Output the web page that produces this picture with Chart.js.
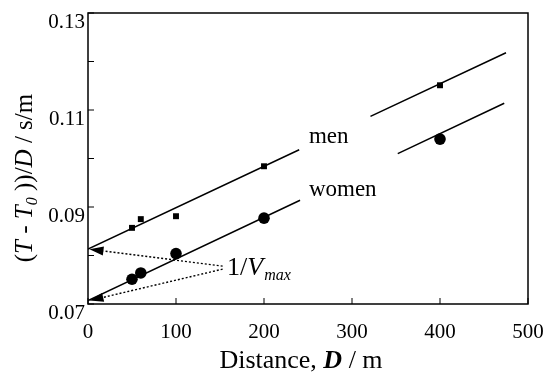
<!DOCTYPE html>
<html><head><meta charset="utf-8">
<script src="https://cdn.jsdelivr.net/npm/chart.js@4/dist/chart.umd.min.js"></script>
<style>html,body{margin:0;padding:0;background:#fff}</style>
</head><body>
<canvas id="c" width="549" height="374"></canvas>
<script>
// ---- data ----
const distances   = [50, 60, 100, 200, 400];
const menValues   = [0.0857, 0.0875, 0.0881, 0.0984, 0.1151];
const womenValues = [0.0751, 0.0764, 0.0804, 0.0877, 0.1040];
// regression lines: endpoints (gap where the label sits)
const menFitX   = [0, 240, 321, 475];
const menFitY   = [0.0813, 0.1018, 0.1087, 0.1218];
const womenFitX = [0, 241, 352, 473];
const womenFitY = [0.0707, 0.0914, 0.1010, 0.1114];
// 1/Vmax annotation: label point and the two intercepts it points to
const vmaxTail = [153, 0.0775];
const xTickValues = [0, 100, 200, 300, 400, 500];
const yLabelledTicks = ['0.07', '0.09', '0.11', '0.13'];

const SERIF = '"Liberation Serif", "DejaVu Serif", serif';

function fitData(xs, ys) {
  return [
    {x: xs[0], y: ys[0]}, {x: xs[1], y: ys[1]},
    {x: (xs[1] + xs[2]) / 2, y: null},
    {x: xs[2], y: ys[2]}, {x: xs[3], y: ys[3]}
  ];
}

function richText(ctx, parts, cx, cy) {
  let total = 0;
  parts.forEach(p => { ctx.font = p.f; p.w = ctx.measureText(p.t).width; total += p.w; });
  let x = cx - total / 2;
  ctx.textAlign = 'left';
  ctx.textBaseline = 'alphabetic';
  parts.forEach(p => { ctx.font = p.f; ctx.fillText(p.t, x, cy + (p.dy || 0)); x += p.w; });
}

const decor = {
  id: 'decor',
  beforeDraw(chart) {
    const ctx = chart.ctx;
    ctx.save();
    ctx.fillStyle = '#fff';
    ctx.fillRect(0, 0, chart.width, chart.height);
    ctx.restore();
  },
  afterDraw(chart) {
    const {ctx, chartArea: a, scales: {x, y}} = chart;
    ctx.save();
    ctx.strokeStyle = '#000';
    ctx.fillStyle = '#000';
    // frame
    ctx.lineWidth = 1.5;
    ctx.strokeRect(a.left, a.top, a.right - a.left, a.bottom - a.top);
    // inward ticks
    ctx.lineWidth = 1;
    ctx.beginPath();
    y.ticks.forEach(t => { const py = y.getPixelForValue(t.value); ctx.moveTo(a.left, py); ctx.lineTo(a.left + 6, py); });
    x.ticks.forEach(t => { const px = x.getPixelForValue(t.value); ctx.moveTo(px, a.bottom); ctx.lineTo(px, a.bottom - 6); });
    ctx.stroke();

    // dotted arrows for 1/Vmax
    const tx = x.getPixelForValue(vmaxTail[0]);
    const ty = y.getPixelForValue(vmaxTail[1]);
    [[menFitX[0], menFitY[0], -1.5], [womenFitX[0], womenFitY[0], 1.5]].forEach(([vx, vy, off]) => {
      const hx = x.getPixelForValue(vx) + 1.5;
      const hy = y.getPixelForValue(vy);
      const sy = ty + off;
      const ang = Math.atan2(hy - sy, hx - tx);
      const L = 14, W = 4.5;
      const bx = hx - L * Math.cos(ang), by = hy - L * Math.sin(ang);
      ctx.setLineDash([2, 2]);
      ctx.lineWidth = 1.4;
      ctx.beginPath(); ctx.moveTo(tx, sy); ctx.lineTo(bx, by); ctx.stroke();
      ctx.setLineDash([]);
      ctx.beginPath();
      ctx.moveTo(hx, hy);
      ctx.lineTo(bx + W * Math.sin(ang), by - W * Math.cos(ang));
      ctx.lineTo(bx - W * Math.sin(ang), by + W * Math.cos(ang));
      ctx.closePath(); ctx.fill();
    });

    // in-plot labels
    ctx.textBaseline = 'alphabetic';
    ctx.textAlign = 'left';
    ctx.font = '23px ' + SERIF;
    ctx.fillText('men', x.getPixelForValue(251), y.getPixelForValue(0.1031));
    ctx.fillText('women', x.getPixelForValue(251), y.getPixelForValue(0.0923));
    const lx = x.getPixelForValue(158), ly = y.getPixelForValue(0.0759);
    ctx.font = '26px ' + SERIF;
    ctx.fillText('1/', lx, ly);
    const w1 = ctx.measureText('1/').width;
    ctx.font = 'italic 26px ' + SERIF;
    ctx.fillText('V', lx + w1, ly);
    const w2 = ctx.measureText('V').width;
    ctx.font = 'italic 16px ' + SERIF;
    ctx.fillText('max', lx + w1 + w2 + 1, ly + 5);

    // axis titles
    ctx.fillStyle = '#000';
    richText(ctx, [
      {t: 'Distance, ', f: '26px ' + SERIF},
      {t: 'D', f: 'italic bold 26px ' + SERIF},
      {t: ' / m', f: '26px ' + SERIF}
    ], 301, 368);

    ctx.save();
    ctx.translate(32, 178);
    ctx.rotate(-Math.PI / 2);
    richText(ctx, [
      {t: '(', f: '25px ' + SERIF},
      {t: 'T', f: 'italic 25px ' + SERIF},
      {t: ' - ', f: '25px ' + SERIF},
      {t: 'T', f: 'italic 25px ' + SERIF},
      {t: '0', f: 'italic 16px ' + SERIF, dy: 5},
      {t: ' ))/', f: '25px ' + SERIF},
      {t: 'D', f: 'italic 25px ' + SERIF},
      {t: ' / s/m', f: '25px ' + SERIF}
    ], 0, 0);
    ctx.restore();
    ctx.restore();
  }
};

new Chart(document.getElementById('c'), {
  type: 'line',
  data: {
    datasets: [
      {label: 'men', type: 'scatter', data: distances.map((d, i) => ({x: d, y: menValues[i]})),
       pointStyle: 'rect', pointRadius: 4.2, backgroundColor: '#000', borderWidth: 0, showLine: false},
      {label: 'women', type: 'scatter', data: distances.map((d, i) => ({x: d, y: womenValues[i]})),
       pointStyle: 'circle', pointRadius: 5.8, backgroundColor: '#000', borderWidth: 0, showLine: false},
      {label: 'men fit', data: fitData(menFitX, menFitY), borderColor: '#000', borderWidth: 1.5,
       pointRadius: 0, spanGaps: false, tension: 0},
      {label: 'women fit', data: fitData(womenFitX, womenFitY), borderColor: '#000', borderWidth: 1.5,
       pointRadius: 0, spanGaps: false, tension: 0}
    ]
  },
  options: {
    responsive: false,
    animation: false,
    layout: {padding: {left: 0, right: 21, top: 13, bottom: 0}},
    plugins: {legend: {display: false}, tooltip: {enabled: false}},
    scales: {
      x: {
        type: 'linear', min: 0, max: 500,
        afterBuildTicks: s => { s.ticks = xTickValues.map(v => ({value: v})); },
        afterFit: s => { s.height = 70; s.paddingLeft = 0; s.paddingRight = 0; },
        grid: {display: false, drawTicks: false},
        border: {display: false},
        ticks: {color: '#000', font: {family: SERIF, size: 21}, padding: 16, maxRotation: 0,
                callback: v => String(v)}
      },
      y: {
        type: 'linear', min: 0.07, max: 0.13,
        ticks: {stepSize: 0.01, color: '#000', font: {family: SERIF, size: 21}, padding: 3, labelOffset: 9,
                callback: v => { const s = v.toFixed(2); return yLabelledTicks.includes(s) ? s : ''; }},
        afterFit: s => { s.width = 88; s.paddingTop = 0; s.paddingBottom = 0; },
        grid: {display: false, drawTicks: false},
        border: {display: false}
      }
    }
  },
  plugins: [decor]
});
</script>
</body></html>
